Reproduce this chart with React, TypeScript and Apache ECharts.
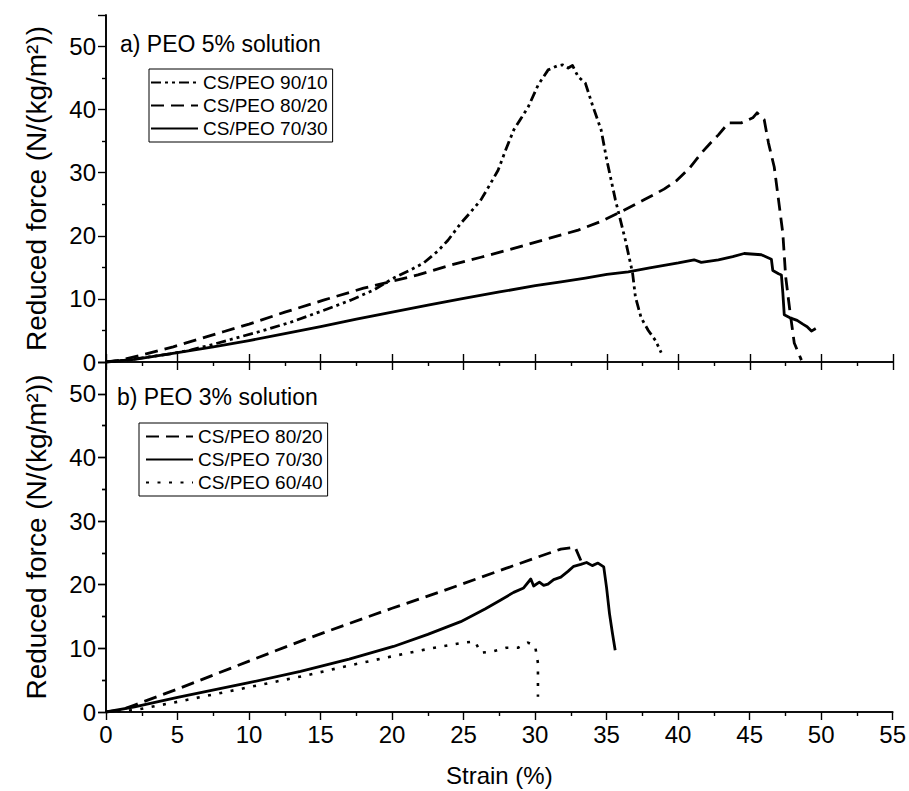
import React, { useEffect, useRef } from "react";
import * as echarts from "echarts";

const FONT = "'Liberation Sans', Arial, Helvetica, sans-serif";

// Panel a) PEO 5% solution  [strain %, reduced force]
const a_90_10: [number, number][] = [
  [0, 0], [1.5, 0.3], [3, 0.8], [4.5, 1.3], [5.9, 1.9], [7.5, 2.8], [9.4, 4.0], [11, 5.0], [12.9, 6.3],
  [15, 8.0], [17.1, 9.8], [18.7, 11.4], [20.1, 13.3], [21.2, 14.5], [22.2, 15.7], [23.2, 17.6], [23.9, 19.3],
  [24.8, 22.0], [25.5, 23.8], [26.2, 25.7], [26.8, 28.0], [27.4, 30.4], [28.0, 34.0], [28.5, 36.8],
  [29.0, 38.6], [29.5, 40.4], [30.2, 43.9], [30.9, 46.3], [31.5, 46.9], [31.9, 47.1], [32.3, 46.6],
  [32.6, 47.0], [33.0, 45.2], [33.5, 44.2], [34.0, 40.7], [34.6, 36.8], [35.0, 32.0], [35.6, 25.7],
  [36.3, 19.3], [36.8, 14.1], [37.0, 10.3], [37.4, 7.0], [37.9, 5.0], [38.4, 3.4], [38.8, 1.5]
];
const a_80_20: [number, number][] = [
  [0, 0], [1, 0.3], [2.5, 1.1], [4.7, 2.4], [8.2, 4.8], [10, 6.0], [12.5, 7.9], [15.2, 9.8], [18, 11.7],
  [21.8, 13.8], [24, 15.3], [26.2, 16.6], [28.5, 18.0], [30.5, 19.3], [33.0, 20.9], [34.5, 22.2],
  [35.8, 23.6], [37.6, 25.7], [39.0, 27.4], [39.9, 28.8], [40.8, 30.8], [41.6, 33.1], [42.2, 34.6],
  [42.8, 36.0], [43.5, 37.9], [44.4, 37.9], [45.2, 38.7], [45.5, 39.5], [46.0, 38.4], [46.3, 34.7],
  [46.7, 30.9], [47.0, 25.7], [47.3, 20.4], [47.5, 13.5], [47.8, 8.0], [48.1, 3.0], [48.6, 0.3]
];
const a_70_30: [number, number][] = [
  [0, 0], [2, 0.4], [5, 1.5], [7.5, 2.4], [10, 3.4], [12.5, 4.5], [15, 5.6], [17.5, 6.8], [20, 7.9],
  [22.5, 9.0], [25, 10.1], [27.5, 11.1], [30, 12.1], [31.8, 12.7], [33.5, 13.3], [35, 13.9], [36.5, 14.3],
  [38, 14.9], [40, 15.7], [41.1, 16.2], [41.6, 15.8], [42.8, 16.2], [43.8, 16.7], [44.6, 17.2],
  [45.8, 17.0], [46.5, 16.3], [46.6, 14.5], [47.0, 14.0], [47.2, 13.8], [47.3, 11.0], [47.4, 7.5],
  [47.8, 7.0], [48.3, 6.6], [48.7, 6.0], [49.0, 5.6], [49.3, 4.9], [49.6, 5.3]
];

// Panel b) PEO 3% solution
const b_80_20: [number, number][] = [
  [0, 0], [1, 0.3], [2, 1.1], [5, 3.6], [10, 8.0], [13.8, 11.3], [17, 13.9], [20, 16.3], [23.4, 18.9],
  [26, 21.0], [28, 22.6], [30, 24.2], [31.8, 25.6], [32.8, 25.9], [33.2, 23.8]
];
const b_70_30: [number, number][] = [
  [0, 0], [2, 0.8], [5, 2.3], [10, 4.6], [13.6, 6.4], [17, 8.3], [20.1, 10.3], [22.5, 12.2], [24.8, 14.2],
  [26.5, 16.2], [27.6, 17.6], [28.5, 18.8], [29.2, 19.5], [29.7, 20.9], [29.9, 19.8], [30.3, 20.4],
  [30.6, 19.9], [30.9, 20.1], [31.3, 20.8], [31.8, 21.2], [32.3, 22.1], [32.7, 22.9], [33.2, 23.2],
  [33.6, 23.5], [34.0, 23.0], [34.4, 23.4], [34.8, 22.8], [35.0, 19.5], [35.2, 15.5], [35.4, 12.5],
  [35.6, 9.7]
];
const b_60_40: [number, number][] = [
  [0, 0], [2, 0.3], [5, 1.6], [10, 3.9], [14.1, 5.8], [17, 7.3], [19.9, 8.7], [22.5, 9.9], [25, 10.9],
  [25.8, 11.1], [26.2, 9.3], [27, 9.5], [28, 10.1], [28.8, 10.1], [29.5, 10.9], [30, 10.4], [30.2, 7.7],
  [30.2, 5.1], [30.2, 2.4]
];

const namesA = ["CS/PEO 90/10", "CS/PEO 80/20", "CS/PEO 70/30"];
const namesB = ["CS/PEO 80/20", "CS/PEO 70/30", "CS/PEO 60/40"];

const xTicks = { min: 0, max: 55, interval: 5 };
const yTicks = { min: 0, max: 55, interval: 10 };

const DASH_DOT_DOT = [10, 4, 3, 4, 3, 4];
const DASH = [13, 7];
const DOT = [3, 8.5];

export default function App() {
  const ref = useRef<HTMLDivElement>(null);
  useEffect(() => {
    if (!ref.current) return;
    const chart = echarts.init(ref.current, undefined, { renderer: "svg" });
    const axisLine = { show: true, lineStyle: { color: "#000", width: 1.6 } };
    const label = { color: "#000", fontSize: 24, fontFamily: FONT };
    const G0 = { left: 106, top: 15, width: 787, height: 347 };
    const G1 = { left: 106, top: 362, width: 787, height: 350 };
    const tick = { show: true, inside: false, length: 8, lineStyle: { color: "#000", width: 1.4 } };
    const minor = { show: true, splitNumber: 2, length: 4, lineStyle: { color: "#000", width: 1.4 } };
    const yName = {
      name: "Reduced force (N/(kg/m²))",
      nameLocation: "middle",
      nameRotate: 90,
      nameGap: 56,
      nameTextStyle: { color: "#000", fontSize: 28, fontFamily: FONT },
    };
    const lineS = (name: string, data: [number, number][], type: any, xi: number, yi: number, w = 2.8) => ({
      type: "line",
      name,
      data,
      xAxisIndex: xi,
      yAxisIndex: yi,
      showSymbol: false,
      symbol: "none",
      smooth: false,
      lineStyle: { color: "#000", width: w, type, cap: "butt", join: "round" },
      itemStyle: { color: "#000" },
      z: 3,
    });
    const legendBase = {
      orient: "vertical",
      itemWidth: 47,
      itemHeight: 14,
      itemGap: 4,
      borderColor: "#000",
      borderWidth: 1,
      selectedMode: false,
      itemStyle: { color: "rgba(0,0,0,0)", borderColor: "rgba(0,0,0,0)", borderWidth: 0 },
      textStyle: { color: "#000", fontSize: 19, fontFamily: FONT },
    };
    const xBase = { type: "value", ...xTicks, splitLine: { show: false } };
    const yBase = { type: "value", ...yTicks, splitLine: { show: false } };
    const option: any = {
      animation: false,
      backgroundColor: "#fff",
      grid: [
        { ...G0, containLabel: false },
        { ...G1, containLabel: false },
      ],
      xAxis: [
        { ...xBase, gridIndex: 0, position: "bottom", axisLine, axisTick: tick, minorTick: minor, axisLabel: { show: false } },
        { ...xBase, gridIndex: 0, position: "top", axisLine, axisTick: tick, axisLabel: { show: false } },
        {
          ...xBase, gridIndex: 1, position: "bottom", axisLine, axisTick: tick, minorTick: minor,
          axisLabel: { ...label, margin: 10 },
          name: "Strain (%)",
          nameLocation: "middle",
          nameGap: 51,
          nameTextStyle: { color: "#000", fontSize: 24, fontFamily: FONT },
        },
        { ...xBase, gridIndex: 1, position: "top", axisLine, axisTick: { show: false }, axisLabel: { show: false } },
      ],
      yAxis: [
        {
          ...yBase, gridIndex: 0, position: "left", axisLine, axisTick: tick, minorTick: minor,
          axisLabel: { ...label, margin: 10, showMaxLabel: false }, ...yName,
        },
        { ...yBase, gridIndex: 0, position: "right", axisLine, axisTick: { show: false }, axisLabel: { show: false } },
        {
          ...yBase, gridIndex: 1, position: "left", axisLine, axisTick: tick, minorTick: minor,
          axisLabel: { ...label, margin: 10, showMaxLabel: false }, ...yName,
        },
        {
          ...yBase, gridIndex: 1, position: "right", axisLine,
          axisTick: { ...tick, inside: true }, minorTick: minor, axisLabel: { show: false },
        },
      ],
      legend: [
        { ...legendBase, data: namesA, left: 149, top: 69, padding: [4, 5, 4, 1] },
        { ...legendBase, data: namesB, left: 139, top: 423, padding: [4, 5, 4, 6] },
      ],
      graphic: [
        {
          type: "text", left: 120, top: 32,
          style: { text: "a) PEO 5% solution", fill: "#000", font: `23px ${FONT}` },
        },
        {
          type: "text", left: 117, top: 385,
          style: { text: "b) PEO 3% solution", fill: "#000", font: `23px ${FONT}` },
        },
      ],
      series: [
        lineS(namesA[0], a_90_10, DASH_DOT_DOT, 0, 0),
        lineS(namesA[1], a_80_20, DASH, 0, 0),
        lineS(namesA[2], a_70_30, "solid", 0, 0),
        lineS(namesB[0], b_80_20, DASH, 2, 2),
        lineS(namesB[1], b_70_30, "solid", 2, 2),
        lineS(namesB[2], b_60_40, DOT, 2, 2, 2.6),
      ],
    };
    chart.setOption(option);
    return () => chart.dispose();
  }, []);
  return <div ref={ref} style={{ width: 909, height: 791, position: "absolute", left: 0, top: 0 }} />;
}
